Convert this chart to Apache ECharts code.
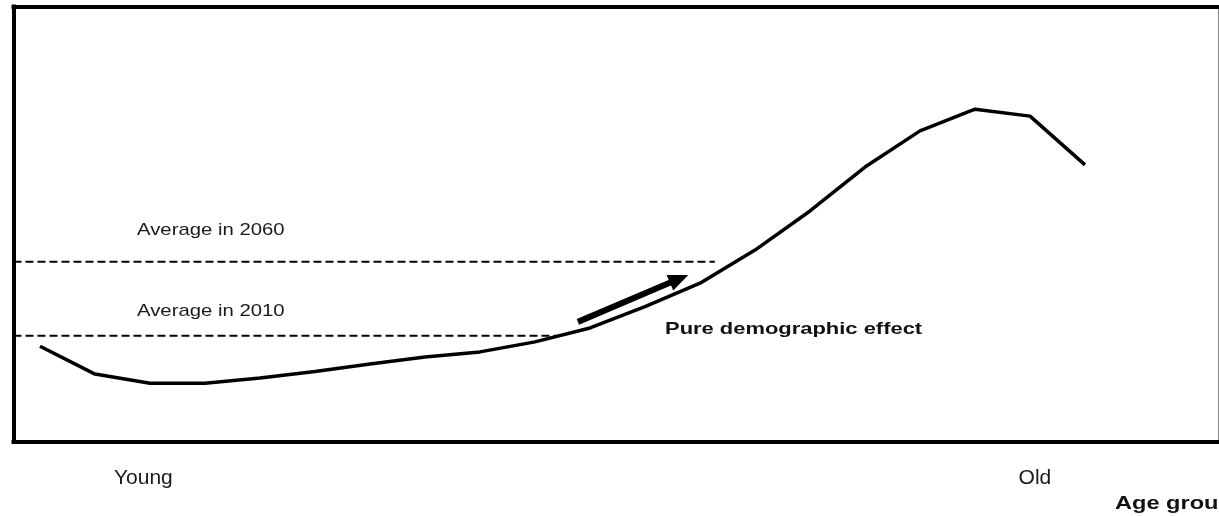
<!DOCTYPE html>
<html>
<head>
<meta charset="utf-8">
<script src="https://cdn.jsdelivr.net/npm/echarts@6/dist/echarts.min.js"></script>
<style>html,body{margin:0;padding:0;background:#fff;}#chart{width:1219px;height:516px;}</style>
</head>
<body>
<div id="chart"></div>
<script>
// Age-profile curve (index along age groups, arbitrary units 0-100)
const ageIndex = [0,1,2,3,4,5,6,7,8,9,10,11,12,13,14,15,16,17,18,19];
const profileValues = [21.9,15.5,13.4,13.4,14.6,16.1,17.8,19.4,20.6,22.9,26.1,31.0,36.4,44.0,53.0,63.1,71.4,76.4,74.8,63.6];
// Averages
const avg2010 = 24.3;
const avg2060 = 41.3;
const avg2010End = 9.4;
const avg2060End = 12.27;
// Arrow (pure demographic effect)
const arrowFrom = [9.78, 27.5];
const arrowTo = [11.62, 37.4];
// Axis labels
const xLabelValues = [1.88, 18.09];
const xLabelTexts = ['Young', 'Old'];
const xMin = -0.4818, xMax = 21.427;

const chart = echarts.init(document.getElementById('chart'));
const FF = 'Liberation Sans, Arial, sans-serif';
const lineData = ageIndex.map((x, i) => [x, profileValues[i]]);

chart.setOption({
  animation: false,
  backgroundColor: '#fff',
  grid: { left: 13.5, right: 0.5, top: 6.5, bottom: 74.5, show: true, borderColor: '#888', borderWidth: 1 },
  xAxis: [{
    type: 'value', min: xMin, max: xMax, position: 'bottom',
    axisLine: { show: true, onZero: false, lineStyle: { color: '#000', width: 4, cap: 'square' } },
    axisTick: { show: false },
    splitLine: { show: false },
    axisLabel: {
      customValues: xLabelValues,
      formatter: function (v) {
        const idx = xLabelValues.findIndex(a => Math.abs(a - v) < 1e-6);
        return idx >= 0 ? xLabelTexts[idx] : '';
      },
      margin: 26, fontSize: 21, fontFamily: FF, color: '#1a1a1a'
    }
  }, {
    type: 'value', min: xMin, max: xMax, position: 'top',
    axisLine: { show: true, onZero: false, lineStyle: { color: '#000', width: 4, cap: 'square' } },
    axisTick: { show: false }, axisLabel: { show: false }, splitLine: { show: false }
  }],
  yAxis: {
    type: 'value', min: 0, max: 100,
    axisLine: { show: true, onZero: false, lineStyle: { color: '#000', width: 4, cap: 'square' } },
    axisTick: { show: false }, axisLabel: { show: false }, splitLine: { show: false }
  },
  series: [{
    type: 'line', data: lineData, symbol: 'none', silent: true,
    lineStyle: { color: '#000', width: 3.5 },
    markLine: {
      silent: true, symbol: ['none', 'triangle'], symbolSize: [17, 20],
      label: { show: false },
      lineStyle: { color: '#000', width: 6, type: 'solid' },
      emphasis: { disabled: true },
      data: [[{ coord: arrowFrom }, { coord: arrowTo }]]
    }
  }, {
    type: 'line', data: [[xMin, avg2060], [avg2060End, avg2060]], symbol: 'none', silent: true,
    lineStyle: { color: '#000', width: 2, type: [8, 4] }
  }, {
    type: 'line', data: [[xMin, avg2010], [avg2010End, avg2010]], symbol: 'none', silent: true,
    lineStyle: { color: '#000', width: 2, type: [8, 4] }
  }],
  graphic: [
    { type: 'text', x: 137, y: 230, scaleX: 1.195, silent: true,
      style: { text: 'Average in 2060', font: '17px ' + FF, fill: '#1a1a1a', textAlign: 'left', textVerticalAlign: 'middle' } },
    { type: 'text', x: 137, y: 311, scaleX: 1.195, silent: true,
      style: { text: 'Average in 2010', font: '17px ' + FF, fill: '#1a1a1a', textAlign: 'left', textVerticalAlign: 'middle' } },
    { type: 'text', x: 665, y: 329, scaleX: 1.29, silent: true,
      style: { text: 'Pure demographic effect', font: 'bold 17px ' + FF, fill: '#111', textAlign: 'left', textVerticalAlign: 'middle' } },
    { type: 'text', x: 1115, y: 504, scaleX: 1.31, silent: true,
      style: { text: 'Age group', font: 'bold 18px ' + FF, fill: '#111', textAlign: 'left', textVerticalAlign: 'middle' } }
  ]
});
</script>
</body>
</html>
